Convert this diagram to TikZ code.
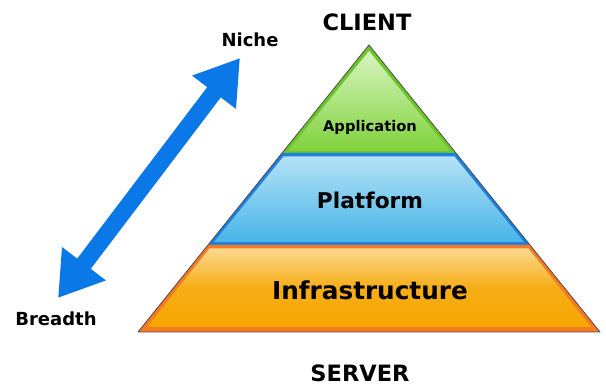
\documentclass[tikz,border=0pt]{standalone}
\usepackage{fontspec}
\setmainfont{DejaVu Sans}
\usetikzlibrary{arrows.meta,calc}
\definecolor{apptop}{HTML}{D8F5C0}
\definecolor{appbot}{HTML}{80D23C}
\definecolor{appedge}{HTML}{6CC62A}
\definecolor{plattop}{HTML}{B4E2F6}
\definecolor{platbot}{HTML}{48B4E8}
\definecolor{platedge}{HTML}{1E7FE0}
\definecolor{infratop}{HTML}{FCD890}
\definecolor{infrabot}{HTML}{F5A600}
\definecolor{infraedge}{HTML}{F57A22}
\definecolor{rangeblue}{HTML}{0A78E6}

\tikzset{
  tier/.style={font=\bfseries\fontsize{#1}{#1}\selectfont, inner sep=0pt},
  endlbl/.style={font=\bfseries\fontsize{18}{18}\selectfont, inner sep=0pt},
  sidelbl/.style={font=\bfseries\fontsize{22.5}{22.5}\selectfont, inner sep=0pt},
}

\begin{document}
\begin{tikzpicture}[x=1pt, y=-1pt]
  \useasboundingbox (0,0) rectangle (606,387);

  % pyramid corners
  \coordinate (apex) at (369,45);
  \coordinate (bl) at (138,332);
  \coordinate (br) at (600,332);

  % application (top)
  \fill[appedge] (apex) -- (282,153) -- (456,153) -- cycle;
  \shade[top color=apptop, bottom color=appbot] (369,51) -- (288,151) -- (450,151) -- cycle;

  % platform
  \fill[platedge] (282,153) -- (456,153) -- (530,245) -- (208,245) -- cycle;
  \shade[top color=plattop, bottom color=platbot] (283.5,156.5) -- (454.5,156.5) -- (524,242) -- (214,242) -- cycle;

  % infrastructure
  \fill[infraedge] (208,245) -- (530,245) -- (br) -- (bl) -- cycle;
  \shade[top color=infratop, bottom color=infrabot, middle color=infrabot!85!infratop]
    (209.5,248.5) -- (528.5,248.5) -- (591,327) -- (147,327) -- cycle;

  \draw[black!70, line width=0.8pt, line join=round] (apex) -- (br) -- (bl) -- cycle;

  \node[tier=14.7] (app) at (370,127) {Application};
  \node[tier=21.7] (plat) at (370,200) {Platform};
  \node[tier=24.7] (infra) at (370,290) {Infrastructure};

  \node[sidelbl] (client) at (367,22) {CLIENT};
  \node[sidelbl] (server) at (360,373) {SERVER};

  \node[endlbl] (niche) at (250,40) {Niche};
  \node[endlbl] (breadth) at (56,319) {Breadth};

  % niche <-> breadth
  \coordinate (nicheEnd) at (240,58);
  \coordinate (breadthEnd) at (58,298);
  \draw[rangeblue, line width=17pt,
    {Triangle[length=43pt,width=52pt]}-{Triangle[length=43pt,width=52pt]}]
    (breadthEnd) -- (nicheEnd);
\end{tikzpicture}
\end{document}
